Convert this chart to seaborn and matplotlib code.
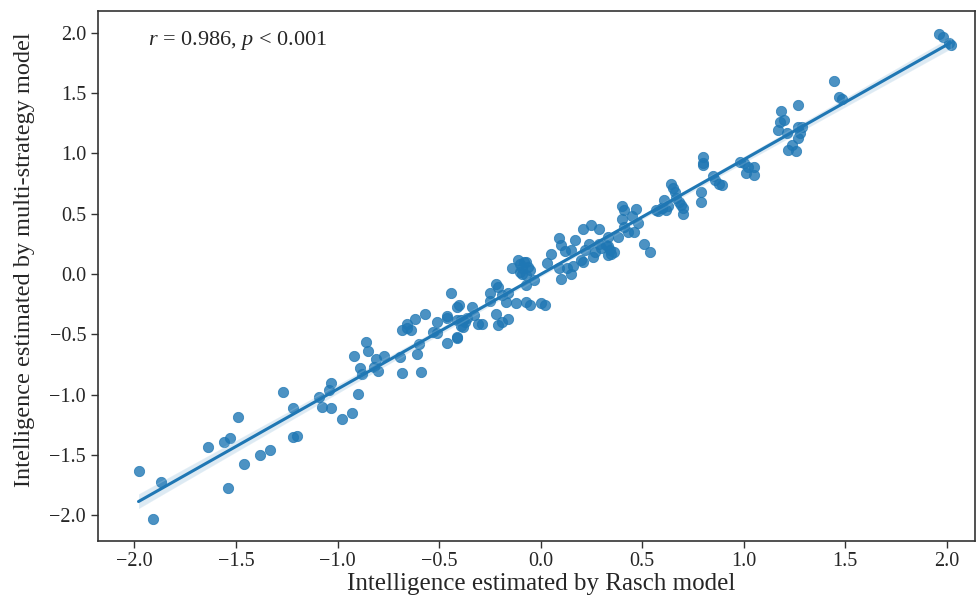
import matplotlib
matplotlib.use("Agg")
import matplotlib.pyplot as plt
import seaborn as sns
import numpy as np
import pandas as pd

rasch = [
    -1.98, -1.91, -1.87, -1.64, -1.56, -1.53, -1.49, -1.54, -1.46, -1.38, -1.33, -1.27, -1.22, -1.22, -1.20,
    -1.09, -1.075, -1.03, -1.04, -1.03, -0.98, -0.93, -0.90, -0.92, -0.89, -0.88, -0.86, -0.85, -0.81, -0.82,
    -0.80, -0.77, -0.69, -0.68, -0.59, -0.61, -0.60, -0.68, -0.66, -0.64, -0.66, -0.62, -0.57, -0.51, -0.53,
    -0.51, -0.46, -0.46, -0.41, -0.41, -0.41,
    -0.41, -0.46, -0.44, -0.40, -0.39, -0.38, -0.38, -0.34, -0.33, -0.31, -0.29, -0.25, -0.22, -0.21, -0.25,
    -0.22, -0.21, -0.19, -0.16, -0.19, -0.16, -0.17, -0.12, -0.07, -0.05, 0.00, 0.02, -0.14, -0.11, -0.10,
    -0.09, -0.07, -0.07, -0.05, -0.07, -0.03, 0.03, 0.05, 0.09, 0.10, 0.09, 0.10, 0.13, 0.12, 0.15, 0.15,
    0.17, 0.16, 0.21, 0.22, 0.21, 0.24, 0.25, 0.29, 0.26, 0.29, 0.33, 0.33,
    0.33, 0.32, 0.34, 0.345, 0.36, 0.38, 0.40, 0.41, 0.40, 0.41, 0.43, 0.46, 0.45, 0.47, 0.48, 0.51, 0.54,
    0.57, 0.58, 0.60, 0.62, 0.61, 0.64, 0.65, 0.66, 0.665, 0.68, 0.69, 0.70, 0.70, 0.79, 0.79, 0.80, 0.80,
    0.80, 0.85, 0.86, 0.88, 0.895, 0.98, 1.00, 1.02, 1.01, 1.05, 1.05,
    1.17, 1.18, 1.20, 1.185, 1.215, 1.27, 1.27, 1.29, 1.28, 1.27, 1.24, 1.22, 1.26, 1.445, 1.47, 1.485,
    1.96, 1.98, 2.02, 2.01,
    -0.37, -0.36, -0.39, -0.10, -0.08, -0.06, -0.09, 0.20, 0.27, 0.30, 0.60, 0.63,
]
multi = [
    -1.63, -2.03, -1.72, -1.43, -1.39, -1.36, -1.18, -1.77, -1.57, -1.50, -1.46, -0.98, -1.11, -1.35, -1.34,
    -1.02, -1.10, -1.11, -0.96, -0.90, -1.20, -1.15, -0.99, -0.68, -0.78, -0.83, -0.56, -0.64, -0.70, -0.77,
    -0.80, -0.68, -0.69, -0.82, -0.81, -0.66, -0.58, -0.46, -0.45, -0.46, -0.41, -0.37, -0.33, -0.40, -0.48,
    -0.49, -0.36, -0.57, -0.27, -0.38, -0.52,
    -0.53, -0.35, -0.155, -0.26, -0.38, -0.38, -0.44, -0.27, -0.34, -0.41, -0.41, -0.16, -0.08, -0.105, -0.22,
    -0.33, -0.42, -0.40, -0.37, -0.17, -0.16, -0.23, -0.24, -0.23, -0.26, -0.24, -0.26, 0.05, 0.12, 0.02,
    0.05, 0.10, -0.01, 0.03, -0.09, -0.05, 0.09, 0.17, 0.30, 0.24, 0.05, -0.04, 0.05, 0.19, 0.20, 0.00,
    0.28, 0.07, 0.37, 0.20, 0.10, 0.25, 0.41, 0.37, 0.14, 0.25, 0.23, 0.16,
    0.31, 0.24, 0.20, 0.17, 0.185, 0.31, 0.56, 0.53, 0.46, 0.39, 0.35, 0.35, 0.48, 0.54, 0.42, 0.245, 0.18,
    0.53, 0.52, 0.545, 0.53, 0.61, 0.75, 0.71, 0.68, 0.63, 0.60, 0.57, 0.545, 0.50, 0.68, 0.60, 0.97, 0.92,
    0.90, 0.81, 0.78, 0.75, 0.74, 0.93, 0.92, 0.89, 0.835, 0.82, 0.89,
    1.195, 1.26, 1.28, 1.35, 1.17, 1.40, 1.22, 1.22, 1.17, 1.13, 1.07, 1.03, 1.02, 1.60, 1.47, 1.45,
    1.99, 1.96, 1.90, 1.915,
    -0.40, -0.36, -0.43, 0.08, 0.10, 0.06, 0.00, 0.12, 0.18, 0.22, 0.55, 0.56,
]

x_ticks = [-2.0, -1.5, -1.0, -0.5, 0.0, 0.5, 1.0, 1.5, 2.0]
y_ticks = [-2.0, -1.5, -1.0, -0.5, 0.0, 0.5, 1.0, 1.5, 2.0]

df = pd.DataFrame({"rasch": rasch, "multi": multi})

sns.set_style("ticks")
plt.rcParams["font.family"] = ["Liberation Serif", "DejaVu Serif"]
plt.rcParams["mathtext.fontset"] = "custom"
plt.rcParams["mathtext.rm"] = "Liberation Serif"
plt.rcParams["mathtext.it"] = "Liberation Serif:italic"

fig = plt.figure(figsize=(9.79, 6.07), dpi=100)
ax = fig.add_axes([0.100, 0.109, 0.896, 0.873])

sns.regplot(data=df, x="rasch", y="multi", ax=ax, color="#1f77b4",
            scatter_kws={"s": 55, "alpha": 0.8, "linewidths": 0.6},
            line_kws={"lw": 2.2})

ax.set_xlim(-2.18, 2.14)
ax.set_ylim(-2.21, 2.18)
ax.set_xticks(x_ticks)
ax.set_yticks(y_ticks)
ax.set_xticklabels([f"{v:.1f}".replace("-", "\u2212") for v in x_ticks])
ax.set_yticklabels([f"{v:.1f}".replace("-", "\u2212") for v in y_ticks])
ax.tick_params(labelsize=14.5, length=5, width=1, color="#333333")
ax.tick_params(axis="x", pad=3)
for s in ax.spines.values():
    s.set_linewidth(1.2)
    s.set_color("#333333")
ax.set_xlabel("Intelligence estimated by Rasch model", fontsize=18)
ax.set_ylabel("Intelligence estimated by multi-strategy model", fontsize=17.5)
ax.yaxis.set_label_coords(-0.072, 0.53)
ax.xaxis.set_label_coords(0.505, -0.061)
ax.text(0.057, 0.945, r"$r$ = 0.986, $p$ < 0.001", transform=ax.transAxes,
        fontsize=16, va="center", ha="left")

fig.savefig("out.png", dpi=100)
